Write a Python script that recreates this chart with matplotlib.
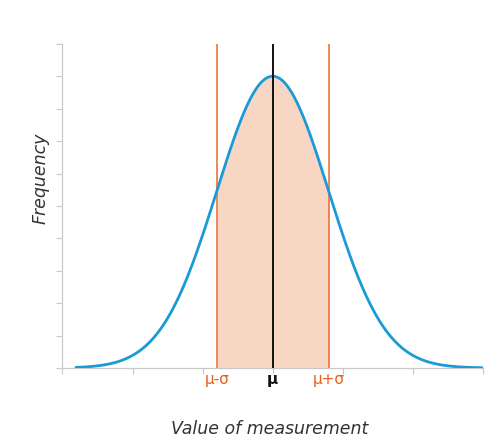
import numpy as np
import matplotlib.pyplot as plt

# distribution shown (in units of sigma)
mu = 0.0
sigma = 1.0
curve_range = [-3.52, 3.75]
x_limits = [-3.77, 3.75]
y_limits = [0.0, 0.443]
x_tick_step = 1.254
y_tick_step = 0.0443
label_names = ["μ-σ", "μ", "μ+σ"]
label_offsets = [-1, 0, 1]

x = np.linspace(curve_range[0], curve_range[1], 400)
y = np.exp(-0.5 * ((x - mu) / sigma) ** 2) / (sigma * np.sqrt(2 * np.pi))

fig = plt.figure(figsize=(5, 4.48), dpi=100)
ax = fig.add_axes([0.124, 0.1786, 0.842, 0.7232])

inside = (x >= mu - sigma) & (x <= mu + sigma)
ax.fill_between(x[inside], 0, y[inside], color="#F8D6C4", lw=0)
ax.plot(x, y, color="#1A9AD6", lw=2.0, zorder=3, solid_capstyle="round")
for off in label_offsets:
    xx = mu + off * sigma
    if off == 0:
        ax.axvline(xx, color="#111111", lw=1.4, zorder=4)
    else:
        ax.axvline(xx, color="#E8682E", lw=1.1, zorder=2)

ax.set_xlim(*x_limits)
ax.set_ylim(*y_limits)
ax.set_xticks(mu + np.arange(-3, 3.01) * x_tick_step)
ax.set_yticks(np.arange(0, 10.5) * y_tick_step)
ax.set_xticklabels([])
ax.set_yticklabels([])
ax.tick_params(colors="#c8c8c8", length=4, width=0.8)
for s in ["top", "right"]:
    ax.spines[s].set_visible(False)
for s in ["left", "bottom"]:
    ax.spines[s].set_color("#c8c8c8")
    ax.spines[s].set_linewidth(0.9)

for name, off in zip(label_names, label_offsets):
    is_mu = off == 0
    ax.text(mu + off * sigma, -0.006, name, ha="center", va="top",
            fontsize=11, color="#111111" if is_mu else "#E8601C",
            fontweight="bold" if is_mu else "normal",
            transform=ax.transData, clip_on=False)

fig.text(0.54, 0.022, "Value of measurement", ha="center", va="bottom",
         fontsize=12.5, style="italic", color="#333333")
fig.text(0.082, 0.603, "Frequency", ha="center", va="center", rotation=90,
         fontsize=12.5, style="italic", color="#333333")

fig.savefig("out.png", dpi=100)
